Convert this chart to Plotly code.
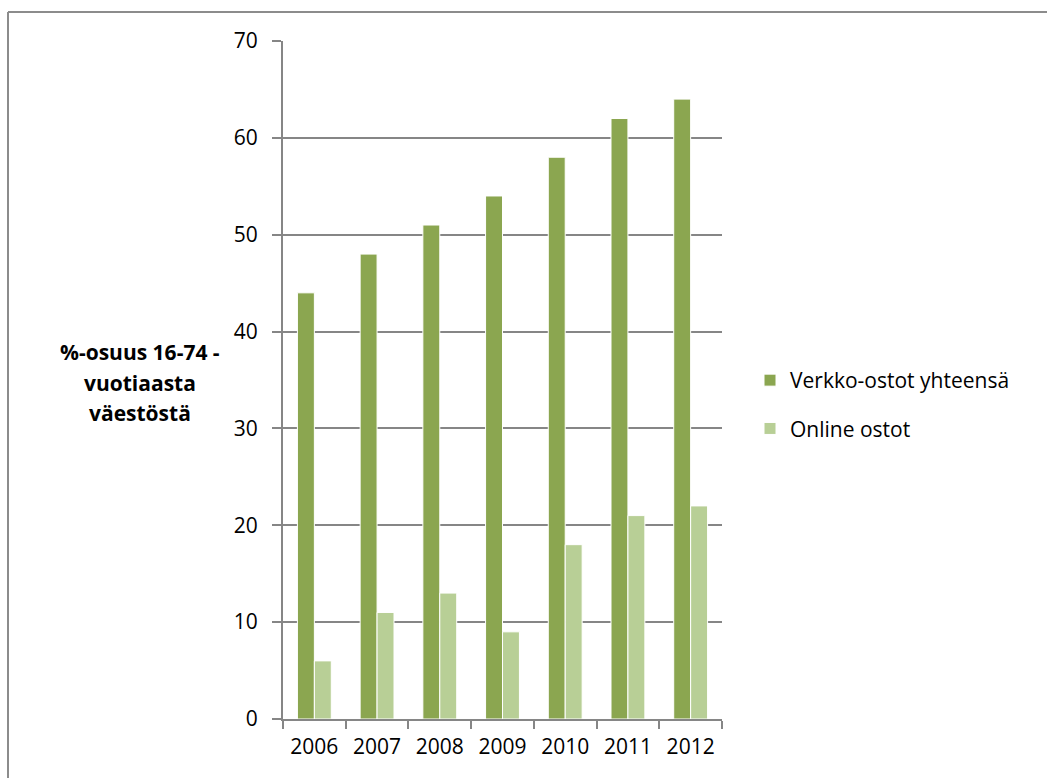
import plotly.graph_objects as go

years = ["2006", "2007", "2008", "2009", "2010", "2011", "2012"]
verkko = [44, 48, 51, 54, 58, 62, 64]
online = [6, 11, 13, 9, 18, 21, 22]
series_names = ["Verkko-ostot yhteensä", "Online ostot"]
y_title_lines = ["%-osuus 16-74 -", "vuotiaasta", "väestöstä"]
y_ticks = [0, 10, 20, 30, 40, 50, 60, 70]

FONT = "Open Sans"
L, R, T, B = 283, 325, 41, 59
W, H = 1047, 778
pw, ph = W - L - R, H - T - B

fig = go.Figure()
fig.add_trace(go.Bar(x=years, y=verkko, name=series_names[0],
                     marker=dict(color="#8BA650", line=dict(color="white", width=1)),
                     legendgroup="a"))
fig.add_trace(go.Bar(x=years, y=online, name=series_names[1],
                     marker=dict(color="#B8CF96", line=dict(color="white", width=1)),
                     legendgroup="b"))

def px_x(px):
    return (px - L) / pw

def px_y(py):
    return (H - B - py) / ph

title_rows = [352, 383, 413]
annotations = [dict(text=line, xref="paper", yref="paper",
                    x=px_x(140), y=px_y(py), xanchor="center", yanchor="middle",
                    showarrow=False, align="center",
                    font=dict(size=21, family=FONT, color="black", weight="bold"))
               for line, py in zip(y_title_lines, title_rows)]

fig.update_layout(
    width=W, height=H,
    margin=dict(l=L, r=R, t=T, b=B),
    paper_bgcolor="white", plot_bgcolor="white",
    barmode="group", bargap=0.46, bargroupgap=0.0,
    font=dict(family=FONT, color="black"),
    showlegend=True,
    legend=dict(x=px_x(750), y=px_y(360), xanchor="left", yanchor="top",
                font=dict(size=21, family=FONT), tracegroupgap=18,
                itemwidth=30, bgcolor="rgba(0,0,0,0)"),
    xaxis=dict(type="category", showline=True, linecolor="#868686", linewidth=2,
               ticks="outside", tickson="boundaries", ticklen=8, tickcolor="#868686",
               tickwidth=2, tickfont=dict(size=21, family=FONT), showgrid=False,
               fixedrange=True, ticklabelstandoff=8),
    yaxis=dict(range=[0, 70], tickvals=y_ticks, showline=True, linecolor="#868686",
               linewidth=2, ticks="outside", ticklen=9, tickcolor="#868686", tickwidth=2,
               showgrid=True, gridcolor="#868686", gridwidth=2,
               tickfont=dict(size=21, family=FONT), zeroline=False, ticklabelstandoff=10),
    annotations=annotations,
    shapes=[
        dict(type="line", xref="paper", yref="paper", x0=px_x(8), x1=px_x(1060),
             y0=px_y(12), y1=px_y(12), line=dict(color="#8C8C8C", width=2)),
        dict(type="line", xref="paper", yref="paper", x0=px_x(8), x1=px_x(8),
             y0=px_y(12), y1=px_y(800), line=dict(color="#8C8C8C", width=2)),
    ],
)

fig.write_html("out.html")
